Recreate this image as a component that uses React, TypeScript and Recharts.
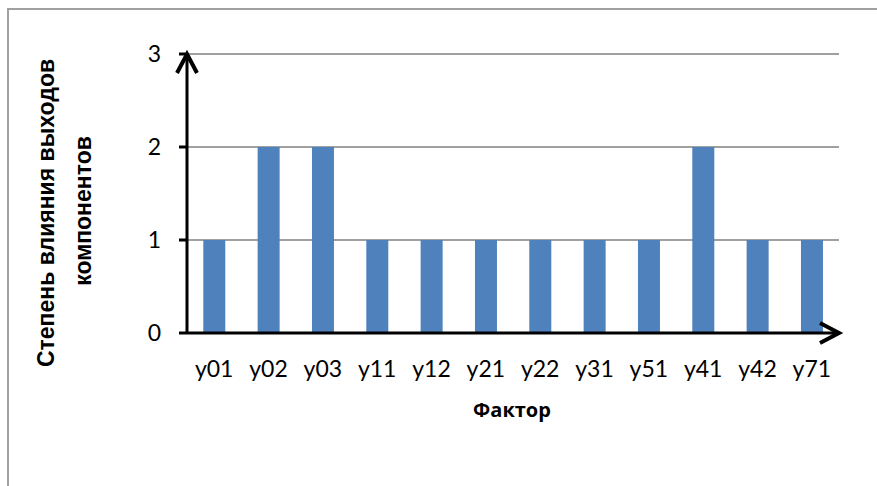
import React from 'react';
import { BarChart, Bar, XAxis, YAxis, CartesianGrid } from 'recharts';

const categories = ['y01', 'y02', 'y03', 'y11', 'y12', 'y21', 'y22', 'y31', 'y51', 'y41', 'y42', 'y71'];
const influence = [1, 2, 2, 1, 1, 1, 1, 1, 1, 2, 1, 1];
const yTicks = [0, 1, 2, 3];
const boundaryTicks = [0, 1, 2, 3, 4, 5, 6, 7, 8, 9, 10, 11, 12];
const xTitle = 'Фактор';
const yTitleLines = ['Степень влияния выходов', 'компонентов'];

const data = categories.map((name, i) => ({ name, value: influence[i] }));

const TICK_FONT = 'Lato, "Open Sans", sans-serif';

const YTitle = () => (
  <g>
    <text
      transform="translate(46,213) rotate(-90)"
      textAnchor="middle"
      dominantBaseline="central"
      fontFamily='"Liberation Sans", Arial, sans-serif'
      fontWeight="bold"
      fontSize={23}
      fill="#000"
    >
      {yTitleLines[0]}
    </text>
    <text
      transform="translate(83,211) rotate(-90)"
      textAnchor="middle"
      dominantBaseline="central"
      fontFamily='"Liberation Sans", Arial, sans-serif'
      fontWeight="bold"
      fontSize={23}
      fill="#000"
    >
      {yTitleLines[1]}
    </text>
  </g>
);

const XTitle = () => (
  <text
    x={512}
    y={417}
    textAnchor="middle"
    fontFamily='"Open Sans", sans-serif'
    fontWeight="bold"
    fontSize={20}
    fill="#000"
  >
    {xTitle}
  </text>
);

export default function App() {
  return (
    <div style={{ position: 'absolute', left: 0, top: 0, width: 877, height: 486, overflow: 'hidden', background: '#fff' }}>
      <svg width={0} height={0} style={{ position: 'absolute' }}>
        <defs>
          <marker
            id="arrowHead"
            markerUnits="userSpaceOnUse"
            viewBox="-25 -15 30 30"
            refX={0}
            refY={0}
            markerWidth={30}
            markerHeight={30}
            orient="auto-start-reverse"
          >
            <path d="M -19 -10 L 0 0 L -19 10" fill="none" stroke="#000" strokeWidth={4} strokeLinejoin="miter" />
          </marker>
        </defs>
      </svg>
      <div
        style={{
          position: 'absolute',
          left: 7,
          top: 8,
          width: 900,
          height: 500,
          border: '2px solid #a0a0a0',
          boxSizing: 'border-box',
        }}
      />
      <div style={{ position: 'absolute', left: 0, top: 0 }}>
        <BarChart
          width={877}
          height={486}
          data={data}
          margin={{ top: 54, right: 38, bottom: 93, left: 0 }}
          barCategoryGap="30%"
        >
          <CartesianGrid vertical={false} stroke="#a0a0a0" strokeWidth={2} />
          <XAxis
            xAxisId="bounds"
            type="number"
            domain={[0, 12]}
            ticks={boundaryTicks}
            allowDataOverflow
            height={0}
            axisLine={false}
            tick={false}
            tickSize={8}
            tickLine={{ stroke: '#000', strokeWidth: 3 }}
          />
          <XAxis
            xAxisId="cat"
            dataKey="name"
            height={60}
            interval={0}
            tickLine={false}
            tickSize={0}
            tickMargin={28}
            axisLine={{ stroke: '#000', strokeWidth: 3, markerEnd: 'url(#arrowHead)' }}
            tick={{ fill: '#000', fontSize: 23, fontFamily: TICK_FONT }}
            label={<XTitle />}
          />
          <YAxis
            width={187}
            domain={[0, 3]}
            ticks={yTicks}
            interval={0}
            tickSize={8}
            tickMargin={18}
            axisLine={{ stroke: '#000', strokeWidth: 3, markerStart: 'url(#arrowHead)' }}
            tickLine={{ stroke: '#000', strokeWidth: 3 }}
            tick={{ fill: '#000', fontSize: 23, fontFamily: TICK_FONT }}
            label={<YTitle />}
          />
          <Bar xAxisId="cat" dataKey="value" fill="#4F81BD" isAnimationActive={false} />
        </BarChart>
      </div>
    </div>
  );
}
